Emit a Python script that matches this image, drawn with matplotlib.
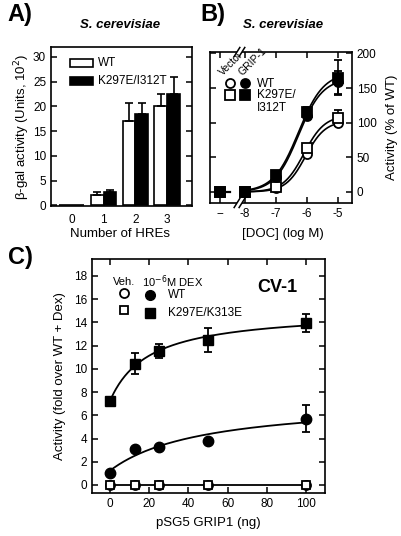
import numpy as np
import matplotlib
matplotlib.use("Agg")
import matplotlib.pyplot as plt
from matplotlib.patches import Rectangle

plt.rcParams['font.family'] = ['Liberation Sans', 'DejaVu Sans']
plt.rcParams['axes.linewidth'] = 1.2

# ---------------- Data ----------------
# Panel A
hre_counts = [0, 1, 2, 3]
a_wt = [0.1, 2.1, 17.1, 20.1]
a_wt_err = [0.0, 0.6, 3.5, 2.4]
a_mut = [0.1, 2.6, 18.5, 22.4]
a_mut_err = [0.0, 0.5, 2.1, 3.5]
a_yticks = [0, 5, 10, 15, 20, 25, 30]

# Panel B
b_doc = [-8.8, -8, -7, -6, -5]
b_xticklabels = ['--', '-8', '-7', '-6', '-5']
b_wt_vec = [0, 0, 5, 55, 99]
b_mut_vec = [0, 0, 7, 63, 107]
b_wt_grip = [0, 0, 22, 110, 158]
b_mut_grip = [0, 0, 25, 115, 165]
b_wt_vec_err = [0, 0, 0, 0, 4]
b_mut_vec_err = [0, 0, 0, 5, 11]
b_wt_grip_err = [0, 0, 0, 5, 16]
b_mut_grip_err = [0, 0, 0, 8, 25]
b_yticks = [0, 50, 100, 150, 200]

# Panel C
c_grip = [0, 12.5, 25, 50, 100]
c_wt = [1.0, 3.1, 3.3, 3.75, 5.7]
c_wt_err = [0, 0, 0, 0, 1.15]
c_mut = [7.2, 10.45, 11.5, 12.5, 13.95]
c_mut_err = [0.25, 0.9, 0.6, 1.05, 0.8]
c_veh_wt = [0, 0, 0, 0, 0]
c_veh_mut = [0, 0, 0, 0, 0]
c_yticks = [0, 2, 4, 6, 8, 10, 12, 14, 16, 18]
c_xticks = [0, 20, 40, 60, 80, 100]


def hill_fit(x, y):
    x = np.asarray(x, float); y = np.asarray(y, float)
    best = None
    for ec in np.linspace(-7.5, -4.5, 121):
        for h in np.linspace(0.5, 2.0, 61):
            f = 1.0 / (1.0 + 10 ** ((ec - x) * h))
            top = np.dot(f, y) / np.dot(f, f)
            r = np.sum((top * f - y) ** 2)
            if best is None or r < best[0]:
                best = (r, ec, h, top)
    _, ec, h, top = best
    return lambda t: top / (1.0 + 10 ** ((ec - t) * h))


def hyper_fit(x, y):
    x = np.asarray(x, float); y = np.asarray(y, float)
    best = None
    for b in np.linspace(1, 100, 397):
        g = x / (b + x)
        M = np.vstack([np.ones_like(g), g]).T
        coef, *_ = np.linalg.lstsq(M, y, rcond=None)
        r = np.sum((M @ coef - y) ** 2)
        if best is None or r < best[0]:
            best = (r, b, coef)
    _, b, coef = best
    return lambda t: coef[0] + coef[1] * t / (b + t)


W, H = 401, 536
fig = plt.figure(figsize=(W / 100, H / 100), dpi=100)


def ax_rect(l, r, t, b):
    return [l / W, 1 - b / H, (r - l) / W, (b - t) / H]


tick_kw = dict(direction='in', length=4, width=1.1, labelsize=8.5, top=True, right=True)

# ---------------- Panel A ----------------
axA = fig.add_axes(ax_rect(51, 192, 47, 206))
x = np.array(hre_counts, float)
w = 0.4
axA.bar(x - w / 2, a_wt, w, color='white', edgecolor='black', linewidth=1.2)
axA.bar(x + w / 2, a_mut, w, color='black', edgecolor='black', linewidth=1.2)
for xi, v, e in zip(x - w / 2, a_wt, a_wt_err):
    if e > 0:
        axA.errorbar([xi], [v], yerr=[[0], [e]], fmt='none', ecolor='black', elinewidth=1.2, capsize=3, capthick=1.2)
for xi, v, e in zip(x + w / 2, a_mut, a_mut_err):
    if e > 0:
        axA.errorbar([xi], [v], yerr=[[0], [e]], fmt='none', ecolor='black', elinewidth=1.2, capsize=3, capthick=1.2)
axA.set_xlim(-0.65, 3.78)
axA.set_ylim(-0.15, 32)
axA.set_xticks(hre_counts)
axA.set_yticks(a_yticks)
axA.tick_params(**tick_kw)
axA.tick_params(axis='x', length=0, pad=6)
axA.add_patch(Rectangle((0.135, 0.873), 0.163, 0.052, transform=axA.transAxes,
                        facecolor='white', edgecolor='black', lw=1.2))
axA.add_patch(Rectangle((0.135, 0.759), 0.163, 0.052, transform=axA.transAxes,
                        facecolor='black', edgecolor='black', lw=1.2))
axA.text(0.33, 0.899, 'WT', transform=axA.transAxes, fontsize=8.5, va='center')
axA.text(0.33, 0.785, 'K297E/I312T', transform=axA.transAxes, fontsize=8.5, va='center')

# ---------------- Panel B ----------------
axB = fig.add_axes(ax_rect(210, 352, 52, 203))
xs = np.linspace(-8, -5, 200)
fit_x = b_doc[1:]
for yv in (b_wt_vec, b_mut_vec, b_wt_grip, b_mut_grip):
    f = hill_fit(fit_x, yv[1:])
    axB.plot(xs, f(xs), color='black', lw=1.2, zorder=2)
axB.plot([b_doc[0], b_doc[1]], [0, 0], color='black', lw=1.6, dashes=(5, 4), zorder=2)
ms = 6.5
for yv, err, mk, fc in ((b_wt_vec, b_wt_vec_err, 'o', 'white'),
                        (b_mut_vec, b_mut_vec_err, 's', 'white'),
                        (b_wt_grip, b_wt_grip_err, 'o', 'black'),
                        (b_mut_grip, b_mut_grip_err, 's', 'black')):
    axB.errorbar(b_doc, yv, yerr=err, fmt=mk, mfc=fc, mec='black', mew=1.3, ms=ms,
                 ecolor='black', elinewidth=1.2, capsize=3, capthick=1.2, zorder=3)
axB.set_xlim(-9.13, -4.55)
axB.set_ylim(-16, 202)
axB.set_xticks(b_doc)
axB.set_xticklabels(b_xticklabels)
axB.set_yticks(b_yticks)
axB.tick_params(**tick_kw)
axB.tick_params(axis='y', labelleft=False, labelright=True)
axB.tick_params(axis='x', labeltop=False)
# axis break marks
for yb in (0.0, 1.0):
    for dx in (0.0, 0.035):
        axB.plot([0.17 + dx, 0.21 + dx], [yb - 0.03, yb + 0.03], transform=axB.transAxes,
                 color='black', lw=1.1, clip_on=False, zorder=5)
    axB.add_patch(Rectangle((0.19, yb - 0.01), 0.035, 0.02, transform=axB.transAxes,
                            facecolor='white', edgecolor='none', clip_on=False, zorder=4))
# legend
axB.text(0.10, 0.83, 'Vector', transform=axB.transAxes, fontsize=7.5, rotation=45,
         rotation_mode='anchor', ha='left', va='bottom')
axB.text(0.24, 0.835, 'GRIP-1', transform=axB.transAxes, fontsize=7.5, rotation=45,
         rotation_mode='anchor', ha='left', va='bottom')
axB.plot([0.14], [0.795], 'o', mfc='white', mec='black', mew=1.3, ms=ms, transform=axB.transAxes)
axB.plot([0.246], [0.795], 'o', mfc='black', mec='black', mew=1.3, ms=ms, transform=axB.transAxes)
axB.plot([0.14], [0.715], 's', mfc='white', mec='black', mew=1.3, ms=ms, transform=axB.transAxes)
axB.plot([0.246], [0.715], 's', mfc='black', mec='black', mew=1.3, ms=ms, transform=axB.transAxes)
axB.text(0.33, 0.79, 'WT', transform=axB.transAxes, fontsize=8.5, va='center')
axB.text(0.33, 0.712, 'K297E/', transform=axB.transAxes, fontsize=8.5, va='center')
axB.text(0.33, 0.632, 'I312T', transform=axB.transAxes, fontsize=8.5, va='center')

# ---------------- Panel C ----------------
axC = fig.add_axes(ax_rect(92, 325, 259, 493))
xc = np.linspace(0, 100, 200)
axC.plot(xc, hyper_fit(c_grip, c_mut)(xc), color='black', lw=1.3, zorder=2)
axC.plot(xc, hyper_fit(c_grip, c_wt)(xc), color='black', lw=1.3, zorder=2)
axC.plot(c_grip, c_veh_wt, color='black', lw=1.3, zorder=2)
msc = 7
axC.errorbar(c_grip, c_mut, yerr=c_mut_err, fmt='s', mfc='black', mec='black', ms=msc,
             ecolor='black', elinewidth=1.3, capsize=3, capthick=1.3, zorder=3)
axC.errorbar(c_grip, c_wt, yerr=c_wt_err, fmt='o', mfc='black', mec='black', ms=msc + 0.5,
             ecolor='black', elinewidth=1.3, capsize=3, capthick=1.3, zorder=3)
axC.plot(c_grip, c_veh_wt, 'o', mfc='white', mec='black', mew=1.3, ms=msc - 0.5, zorder=4)
axC.plot(c_grip, c_veh_mut, 's', mfc='white', mec='black', mew=1.3, ms=msc - 1, zorder=4)
axC.set_xlim(-9.2, 109.7)
axC.set_ylim(-0.69, 19.46)
axC.set_xticks(c_xticks)
axC.set_yticks(c_yticks)
axC.tick_params(**tick_kw)
axC.text(0.09, 0.902, 'Veh.', transform=axC.transAxes, fontsize=8, va='center')
axC.text(0.215, 0.902, r'10$^{-6}$M DEX', transform=axC.transAxes, fontsize=8, va='center')
axC.plot([0.137], [0.855], 'o', mfc='white', mec='black', mew=1.3, ms=msc - 0.5, transform=axC.transAxes)
axC.plot([0.249], [0.846], 'o', mfc='black', mec='black', ms=msc, transform=axC.transAxes)
axC.plot([0.137], [0.782], 's', mfc='white', mec='black', mew=1.3, ms=msc - 1, transform=axC.transAxes)
axC.plot([0.249], [0.769], 's', mfc='black', mec='black', ms=msc - 0.5, transform=axC.transAxes)
axC.text(0.326, 0.846, 'WT', transform=axC.transAxes, fontsize=8.5, va='center')
axC.text(0.326, 0.769, 'K297E/K313E', transform=axC.transAxes, fontsize=8.5, va='center')
axC.text(0.794, 0.88, 'CV-1', transform=axC.transAxes, fontsize=13, fontweight='bold',
         ha='center', va='center')

# ---------------- Figure texts ----------------
fig.text(20 / W, 1 - 15 / H, 'A)', fontsize=17, fontweight='bold', ha='center', va='center')
fig.text(213 / W, 1 - 15 / H, 'B)', fontsize=17, fontweight='bold', ha='center', va='center')
fig.text(20 / W, 1 - 257 / H, 'C)', fontsize=17, fontweight='bold', ha='center', va='center')
fig.text(120 / W, 1 - 25 / H, 'S. cerevisiae', fontsize=9.5, fontweight='bold', style='italic',
         ha='center', va='center')
fig.text(283 / W, 1 - 25 / H, 'S. cerevisiae', fontsize=9.5, fontweight='bold', style='italic',
         ha='center', va='center')
fig.text(22 / W, 1 - 127 / H, r'β-gal activity (Units, 10$^{2}$)', fontsize=9.5, rotation=90,
         ha='center', va='center')
fig.text(120 / W, 1 - 234 / H, 'Number of HREs', fontsize=9.5, ha='center', va='center')
fig.text(392 / W, 1 - 127 / H, 'Activity (% of WT)', fontsize=9.5, rotation=90,
         ha='center', va='center')
fig.text(283 / W, 1 - 234 / H, '[DOC] (log M)', fontsize=9.5, ha='center', va='center')
fig.text(60 / W, 1 - 376 / H, 'Activity (fold over WT + Dex)', fontsize=9.5, rotation=90,
         ha='center', va='center')
fig.text(208 / W, 1 - 523 / H, 'pSG5 GRIP1 (ng)', fontsize=9.5, ha='center', va='center')

fig.savefig('out.png', dpi=100)
